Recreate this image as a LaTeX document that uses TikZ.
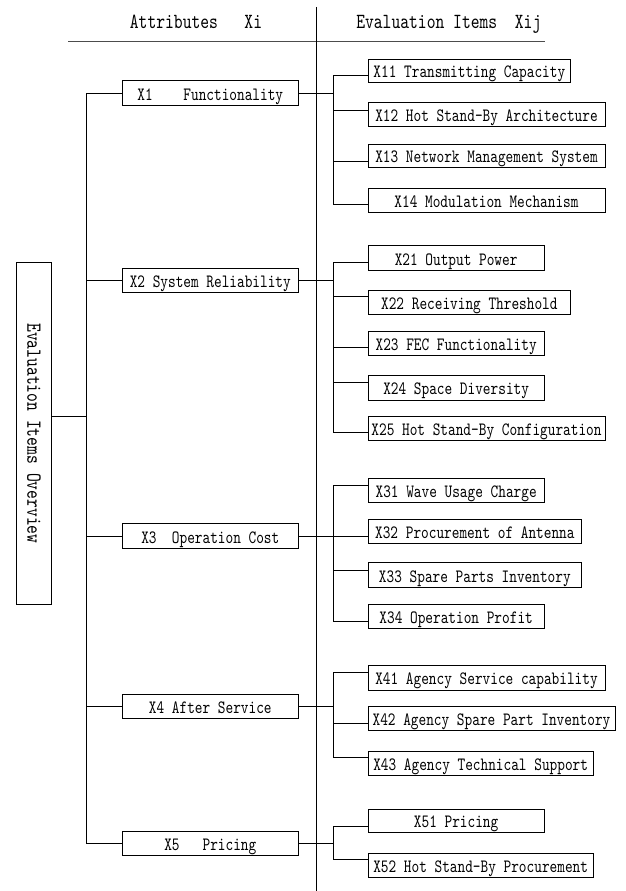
\documentclass[tikz,border=0pt]{standalone}
\usepackage{fontspec}
\newfontfamily\boxfont{lmmono10-regular.otf}[FakeStretch=0.777]
\usetikzlibrary{calc}
\begin{document}
\begin{tikzpicture}[x=1pt,y=-1pt,line width=0.8pt,
  box/.style={draw,inner sep=0pt,font=\boxfont\fontsize{18.8}{20}\selectfont,text height=14pt,text depth=0pt},
  head/.style={inner sep=0pt,font=\boxfont\fontsize{21.6}{24}\selectfont},
  attr/.style={box,minimum width=176.5pt,minimum height=24.5pt},
  headline/.style={draw=black!70,line width=1.1pt}]
\useasboundingbox (0,0) rectangle (625,891);
% header
\node[head,anchor=base] (hA) at (196,28.5) {Attributes\ \ \ Xi};
\node[head,anchor=base] (hE) at (448.8,28.5) {Evaluation Items\ \ Xij};
\coordinate (hl) at (68.3,41.7);
\coordinate (hr) at (545,41.7);
\draw[headline] (hl) -- (hr);
\coordinate (dtop) at (316,7);
\coordinate (dbot) at (316,891);
\draw (dtop) -- (dbot);
% root
\node[draw,head,rotate=-90,minimum width=341.3pt,minimum height=35.7pt] (root) at (33.85,433.35) {Evaluation Items Overview};
% attributes
\node[attr] (X1) at (210.3,93) {X1\ \ \ \ Functionality};
\node[attr] (X2) at (210.3,280.3) {X2 System Reliability};
\node[attr] (X3) at (210.3,536) {X3\ \ Operation Cost};
\node[attr] (X4) at (210.3,706.5) {X4 After Service};
\node[attr] (X5) at (210.3,843.2) {X5\ \ \ Pricing};
% items
\node[box,minimum width=202.7pt,minimum height=23pt] (X11) at (469.35,70.5) {X11 Transmitting Capacity};
\node[box,minimum width=237pt,minimum height=23.3pt] (X12) at (486.5,114.3) {X12 Hot Stand-By Architecture};
\node[box,minimum width=237pt,minimum height=23pt] (X13) at (486.5,155.8) {X13 Network Management System};
\node[box,minimum width=237pt,minimum height=24pt] (X14) at (486.5,200.3) {X14 Modulation Mechanism};
\node[box,minimum width=176.3pt,minimum height=25pt] (X21) at (456.15,258.2) {X21 Output Power};
\node[box,minimum width=202.7pt,minimum height=23.3pt] (X22) at (469.35,302.3) {X22 Receiving Threshold};
\node[box,minimum width=176.3pt,minimum height=23.6pt] (X23) at (456.15,343.5) {X23 FEC Functionality};
\node[box,minimum width=176.3pt,minimum height=25pt] (X24) at (456.15,387.5) {X24 Space Diversity};
\node[box,minimum width=237pt,minimum height=23.3pt] (X25) at (486.5,428.3) {X25 Hot Stand-By Configuration};
\node[box,minimum width=176.3pt,minimum height=24pt] (X31) at (456.15,490.3) {X31 Wave Usage Charge};
\node[box,minimum width=213.7pt,minimum height=24pt] (X32) at (474.85,531.3) {X32 Procurement of Antenna};
\node[box,minimum width=213.7pt,minimum height=25pt] (X33) at (474.85,575.2) {X33 Spare Parts Inventory};
\node[box,minimum width=176.3pt,minimum height=24pt] (X34) at (456.15,616.3) {X34 Operation Profit};
\node[box,minimum width=237pt,minimum height=25pt] (X41) at (486.5,677.5) {X41 Agency Service capability};
\node[box,minimum width=247pt,minimum height=24pt] (X42) at (491.5,718) {X42 Agency Spare Part Inventory};
\node[box,minimum width=225.3pt,minimum height=24pt] (X43) at (480.65,763) {X43 Agency Technical Support};
\node[box,minimum width=176.3pt,minimum height=23.3pt] (X51) at (456.15,820.7) {X51 Pricing};
\node[box,minimum width=225.3pt,minimum height=24pt] (X52) at (480.65,865.3) {X52 Hot Stand-By Procurement};
% left trunk
\coordinate (t) at (86.7,416.7);
\draw (root.north |- t) -- (t);
\foreach \a in {X1,X2,X3,X4,X5} \draw (\a.west) -| (t);
% sub trunks
\coordinate (s1) at (333.7,93);
\coordinate (s2) at (333.7,280.3);
\coordinate (s3) at (333.7,536);
\coordinate (s4) at (333.7,706.5);
\coordinate (s5) at (333.7,843.2);
\draw (X1.east) -- (s1);
\draw (X2.east) -- (s2);
\draw (X3.east) -- (s3);
\draw (X4.east) -- (s4);
\draw (X5.east) -- (s5);
\foreach \b/\o in {X11/5.2,X12/-3.6,X13/5.2,X14/3.7} \draw ($(\b.west)+(0,\o)$) -| (s1);
\foreach \b/\o in {X21/4,X22/-6,X23/4.2,X24/-5.5,X25/4.4} \draw ($(\b.west)+(0,\o)$) -| (s2);
\foreach \b/\o in {X31/-4.6,X32/5.4,X33/-5.2,X34/5.4} \draw ($(\b.west)+(0,\o)$) -| (s3);
\foreach \b/\o in {X41/-4.8,X42/5.3,X43/-5.7} \draw ($(\b.west)+(0,\o)$) -| (s4);
\foreach \b/\o in {X51/6,X52/-6.3} \draw ($(\b.west)+(0,\o)$) -| (s5);
\end{tikzpicture}
\end{document}
